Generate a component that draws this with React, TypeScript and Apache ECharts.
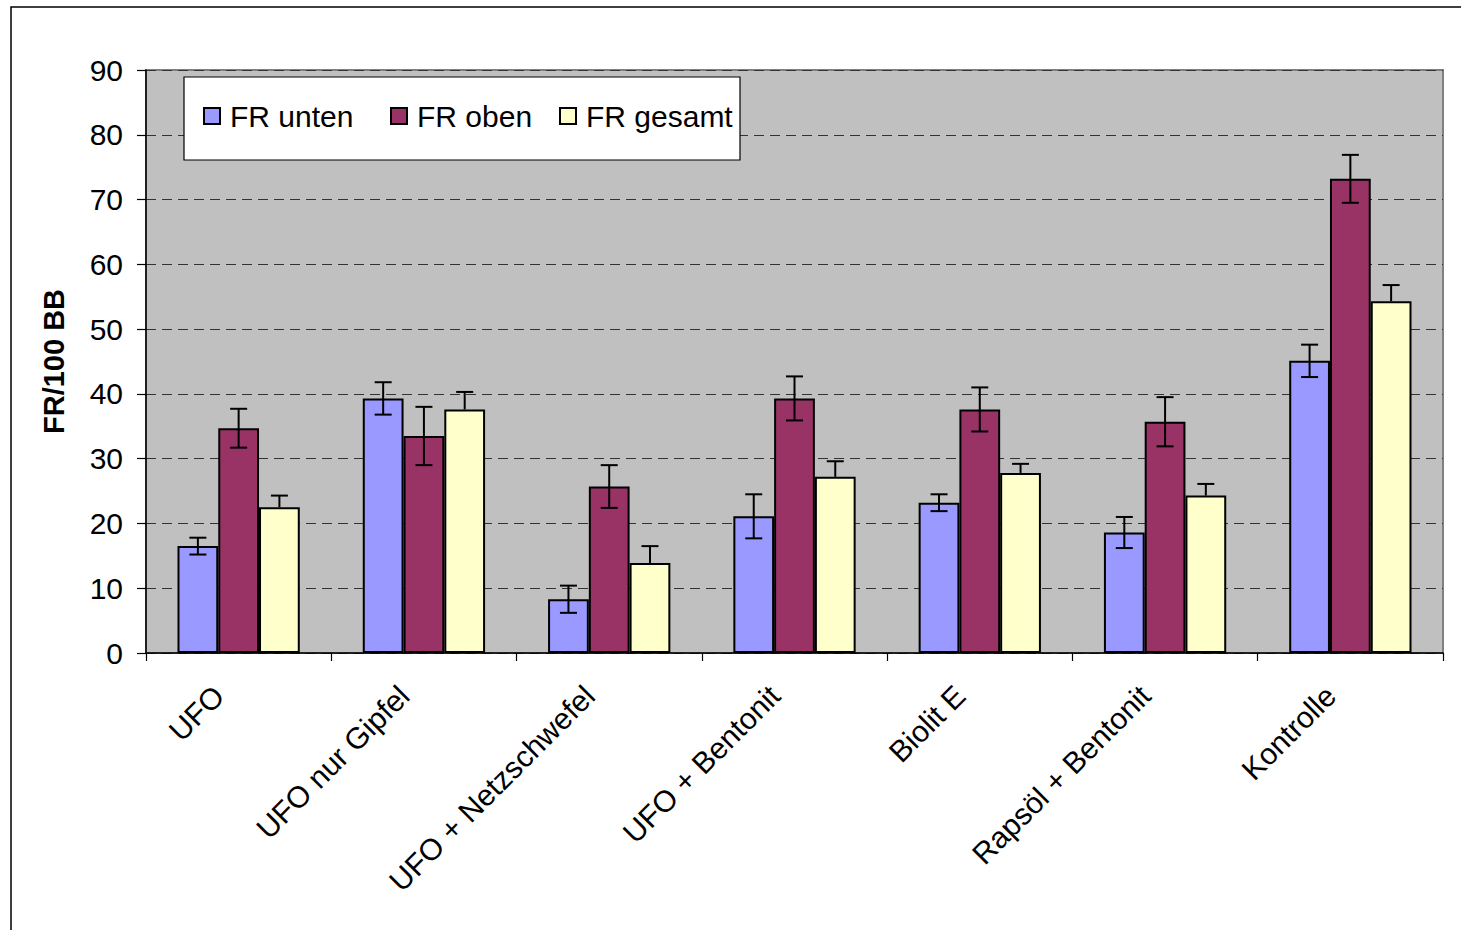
import React, { useEffect, useRef } from "react";
import * as echarts from "echarts";

const categories = [
  "UFO",
  "UFO nur Gipfel",
  "UFO + Netzschwefel",
  "UFO + Bentonit",
  "Biolit E",
  "Rapsöl + Bentonit",
  "Kontrolle",
];
const seriesNames = ["FR unten", "FR oben", "FR gesamt"];
const seriesColors = ["#9999FF", "#993366", "#FFFFCC"];

const frUnten = [16.5, 39.3, 8.3, 21.1, 23.2, 18.6, 45.1];
const frUntenErr = [1.3, 2.5, 2.1, 3.4, 1.3, 2.4, 2.5];
const frOben = [34.7, 33.5, 25.7, 39.3, 37.6, 35.7, 73.2];
const frObenErr = [3.0, 4.5, 3.3, 3.4, 3.4, 3.8, 3.7];
const frGesamt = [22.5, 37.6, 13.9, 27.2, 27.8, 24.3, 54.3];
const frGesamtErr = [1.8, 2.7, 2.6, 2.4, 1.4, 1.8, 2.5];

const yTicks = [0, 10, 20, 30, 40, 50, 60, 70, 80, 90];

const FONT = "'Liberation Sans', Arial, sans-serif";
const CAT_GAP = 0.34;

export default function App() {
  const ref = useRef<HTMLDivElement>(null);

  useEffect(() => {
    if (!ref.current) return;
    const chart = echarts.init(ref.current, undefined, { renderer: "svg" });

    const values = [frUnten, frOben, frGesamt];
    const errs = [frUntenErr, frObenErr, frGesamtErr];
    const errData: any[] = [];
    values.forEach((arr, s) => {
      arr.forEach((v, i) => {
        errData.push([i, v, errs[s][i], s, s === 2 ? 1 : 0]);
      });
    });

    const legendPos = [203, 390, 559];

    const option: any = {
      animation: false,
      textStyle: { fontFamily: FONT },
      graphic: [
        {
          type: "rect",
          z: 0,
          shape: { x: 11, y: 7, width: 1480, height: 950 },
          style: { fill: "none", stroke: "#000", lineWidth: 1.5 },
        },
        {
          type: "rect",
          z: 3,
          shape: { x: 184, y: 77, width: 556, height: 83 },
          style: { fill: "#fff", stroke: "#000", lineWidth: 1.2 },
        },
      ],
      legend: seriesNames.map((n, i) => ({
        data: [n],
        left: legendPos[i],
        top: 101,
        padding: 0,
        z: 5,
        icon: "rect",
        itemWidth: 16,
        itemHeight: 16,
        selectedMode: false,
        itemStyle: { borderColor: "#000", borderWidth: 2 },
        textStyle: { fontSize: 30, color: "#000", fontFamily: FONT, padding: [0, 0, 0, 5] },
      })),
      grid: {
        left: 146,
        right: 18,
        top: 70,
        bottom: 277,
        show: true,
        backgroundColor: "#C0C0C0",
        borderColor: "#808080",
        borderWidth: 2,
      },
      xAxis: {
        type: "category",
        data: categories,
        boundaryGap: true,
        axisLine: { lineStyle: { color: "#000", width: 1.5 } },
        axisTick: { show: true, length: 8, interval: 0, lineStyle: { color: "#000", width: 1.2 } },
        axisLabel: {
          interval: 0,
          rotate: 45,
          fontSize: 30,
          color: "#000",
          fontFamily: FONT,
          margin: 18,
          padding: [0, 28, 0, 0],
        },
        splitLine: { show: false },
      },
      yAxis: {
        type: "value",
        min: yTicks[0],
        max: yTicks[yTicks.length - 1],
        interval: 10,
        name: "FR/100 BB",
        nameLocation: "middle",
        nameRotate: 90,
        nameGap: 78,
        nameTextStyle: { fontSize: 29, fontWeight: "bold", color: "#000", fontFamily: FONT },
        axisLine: { show: true, lineStyle: { color: "#000", width: 1.5 } },
        axisTick: { show: true, length: 9, lineStyle: { color: "#000", width: 1.2 } },
        axisLabel: { fontSize: 30, color: "#000", fontFamily: FONT, margin: 23 },
        splitLine: { show: true, lineStyle: { color: "#333", width: 1.2, type: [10, 6] } },
      },
      series: [
        ...seriesNames.map((n, s) => ({
          name: n,
          type: "bar",
          data: values[s],
          barGap: "0%",
          barCategoryGap: CAT_GAP * 100 + "%",
          itemStyle: { color: seriesColors[s], borderColor: "#000", borderWidth: 2 },
          z: 2,
        })),
        {
          type: "custom",
          name: "err",
          z: 4,
          data: errData,
          encode: { x: 0, y: 1 },
          renderItem: (params: any, api: any) => {
            const idx = api.value(0);
            const v = api.value(1);
            const e = api.value(2);
            const s = api.value(3);
            const plusOnly = api.value(4) === 1;
            const catW = api.size([1, 0])[0];
            const barW = (catW * (1 - CAT_GAP)) / 3;
            const c = api.coord([idx, v]);
            const x = c[0] + (s - 1) * barW;
            const yTop = api.coord([idx, v + e])[1];
            const yBot = plusOnly ? c[1] : api.coord([idx, v - e])[1];
            const hw = 8.5;
            const st = { stroke: "#000", lineWidth: 2 };
            const children: any[] = [
              { type: "line", shape: { x1: x, y1: yTop, x2: x, y2: yBot }, style: st },
              { type: "line", shape: { x1: x - hw, y1: yTop, x2: x + hw, y2: yTop }, style: st },
            ];
            if (!plusOnly) {
              children.push({ type: "line", shape: { x1: x - hw, y1: yBot, x2: x + hw, y2: yBot }, style: st });
            }
            return { type: "group", children };
          },
        },
      ],
    };

    chart.setOption(option);
    return () => chart.dispose();
  }, []);

  return (
    <div
      ref={ref}
      style={{ position: "fixed", left: 0, top: 0, width: 1461, height: 930, background: "#fff" }}
    />
  );
}
